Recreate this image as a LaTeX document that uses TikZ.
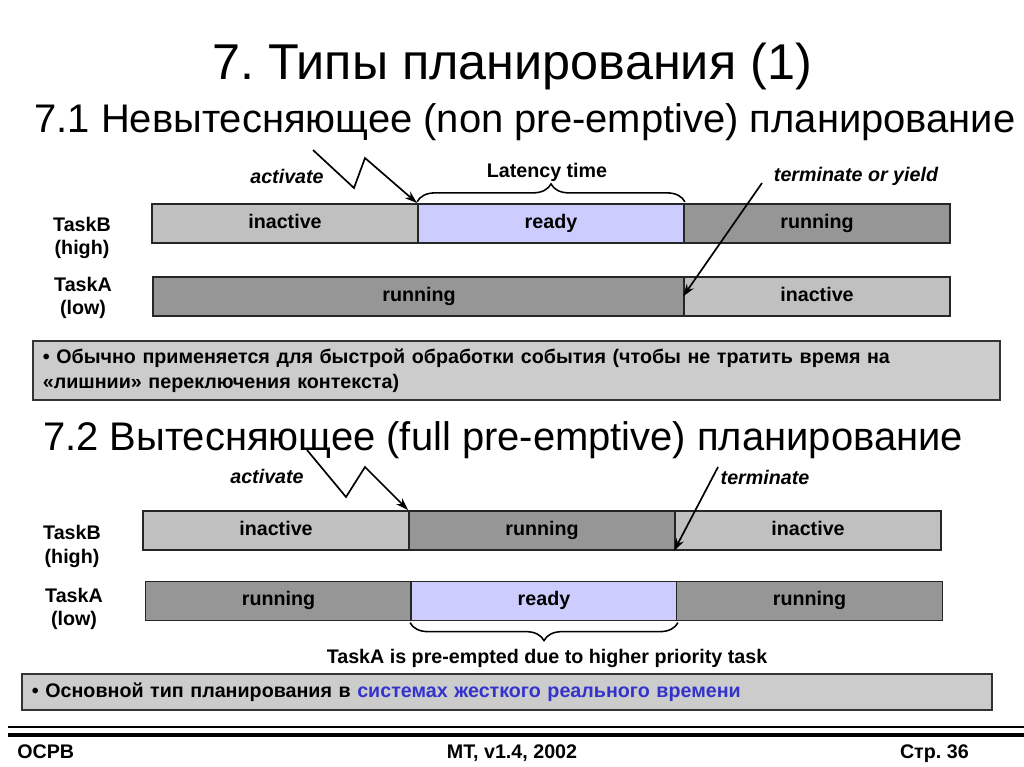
\documentclass[tikz,border=0pt]{standalone}
\usepackage{fontspec}
\setmainfont{Liberation Sans}
\usetikzlibrary{positioning, arrows.meta, decorations.pathreplacing}
\frenchspacing

\definecolor{inact}{HTML}{C0C0C0}
\definecolor{run}{HTML}{969696}
\definecolor{rdy}{HTML}{CCCCFF}
\definecolor{note}{HTML}{CCCCCC}
\definecolor{hard}{HTML}{3333CC}

\begin{document}
\begin{tikzpicture}[x=0.025cm, y=-0.025cm, >={Stealth[length=9pt, width=6pt]},
    seg/.style={draw=black!85, line width=1.3pt, minimum height=0.975cm, inner sep=0pt, text height=10pt, text depth=3.5pt, font=\bfseries\fontsize{14}{16}\selectfont},
    half/.style={seg, minimum width=6.65cm},
    full/.style={seg, minimum width=13.3cm},
    task/.style={font=\bfseries\fontsize{14}{16.5}\selectfont, align=center},
    lbl/.style={font=\bfseries\itshape\fontsize{14}{16}\selectfont},
    foot/.style={font=\bfseries\fontsize{14}{16}\selectfont, text height=10pt, text depth=0pt},
    brc/.style={decorate, decoration={brace, amplitude=0.45cm}, line width=1.1pt},
    notebox/.style={draw=black!80, line width=1.3pt, fill=note, inner xsep=0.25cm, inner ysep=0pt, align=left, font=\bfseries\fontsize{14}{17.7}\selectfont},
    head/.style={font=\fontsize{28.4}{33}\selectfont}]
    \useasboundingbox (0,0) rectangle (1024,767);

    % Titles
    \node[font=\fontsize{35.8}{42}\selectfont] (title) at (512,66) {7. Типы планирования (1)};
    \node[head] (h1) at (525,122) {7.1 Невытесняющее (non pre-emptive) планирование};

    % Non pre-emptive: TaskB
    \node[half, fill=inact] (b1in) at (285,223.5) {inactive};
    \node[half, fill=rdy] (b1rdy) at (551,223.5) {ready};
    \node[half, fill=run] (b1run) at (817,223.5) {running};
    % Non pre-emptive: TaskA
    \node[full, fill=run] (a1run) at (419,296.5) {running};
    \node[half, fill=inact] (a1in) at (817,296.5) {inactive};

    \node[task] (tb1) at (82,238) {TaskB\\(high)};
    \node[task] (ta1) at (83,298) {TaskA\\(low)};

    \node[lbl] (act1txt) at (287,176) {activate};
    \node[font=\bfseries\fontsize{14}{16}\selectfont] (lat) at (547,172) {Latency time};
    \node[lbl] (term1txt) at (856,176) {terminate or yield};

    \coordinate (act1) at (313,150);
    \draw[->, line width=1.2pt] (act1) -- (354,188) -- (365,158) -- (b1rdy.north west);
    \draw[brc] ([yshift=0.03cm]b1rdy.north west) -- ([yshift=0.03cm]b1rdy.north east);
    \coordinate (term1) at (762,183);
    \draw[->, line width=1.2pt] (term1) -- (a1in.west);

    \node[notebox, text width=23.675cm, minimum height=1.475cm] (note1) at (516.5,370.5)
        {• Обычно применяется для быстрой обработки события (чтобы не тратить время на\\«лишнии» переключения контекста)};

    % Full pre-emptive
    \node[head] (h2) at (503,440) {7.2 Вытесняющее (full pre-emptive) планирование};

    \node[half, fill=inact] (b2in) at (276,530.5) {inactive};
    \node[half, fill=run] (b2run) at (542,530.5) {running};
    \node[half, fill=inact] (b2end) at (808,530.5) {inactive};

    \node[half, fill=run] (a2run) at (278.5,601) {running};
    \node[half, fill=rdy] (a2rdy) at (544,601) {ready};
    \node[half, fill=run] (a2back) at (809.5,601) {running};

    \node[task] (tb2) at (72,546.5) {TaskB\\(high)};
    \node[task] (ta2) at (74,609) {TaskA\\(low)};

    \node[lbl] (act2txt) at (267,476) {activate};
    \node[lbl] (term2txt) at (765,477) {terminate};

    \coordinate (act2) at (307,450);
    \draw[->, line width=1.2pt] (act2) -- (346,497) -- (365,467) -- (b2run.north west);
    \coordinate (term2) at (718,467);
    \draw[->, line width=1.2pt] (term2) -- (b2end.south west);

    \draw[brc] ([yshift=-0.03cm]a2rdy.south east) -- ([yshift=-0.03cm]a2rdy.south west);
    \node[font=\bfseries\fontsize{14}{16}\selectfont] (pre) at (547,658) {TaskA is pre-empted due to higher priority task};

    \node[notebox, text width=23.75cm, minimum height=0.9cm] (note2) at (507,692)
        {• Основной тип планирования в \textcolor{hard}{системах жесткого реального времени}};

    % Footer
    \draw[line width=0.9pt] (8,727) -- (1024,727);
    \draw[line width=2.2pt] (8,735) -- (1024,735);
    \node[foot, anchor=west, inner xsep=0pt] (f1) at (17,751) {ОСРВ};
    \node[foot] (f2) at (512,751) {MT, v1.4, 2002};
    \node[foot, anchor=east, inner xsep=0pt] (f3) at (969,751) {Стр. 36};
\end{tikzpicture}
\end{document}
